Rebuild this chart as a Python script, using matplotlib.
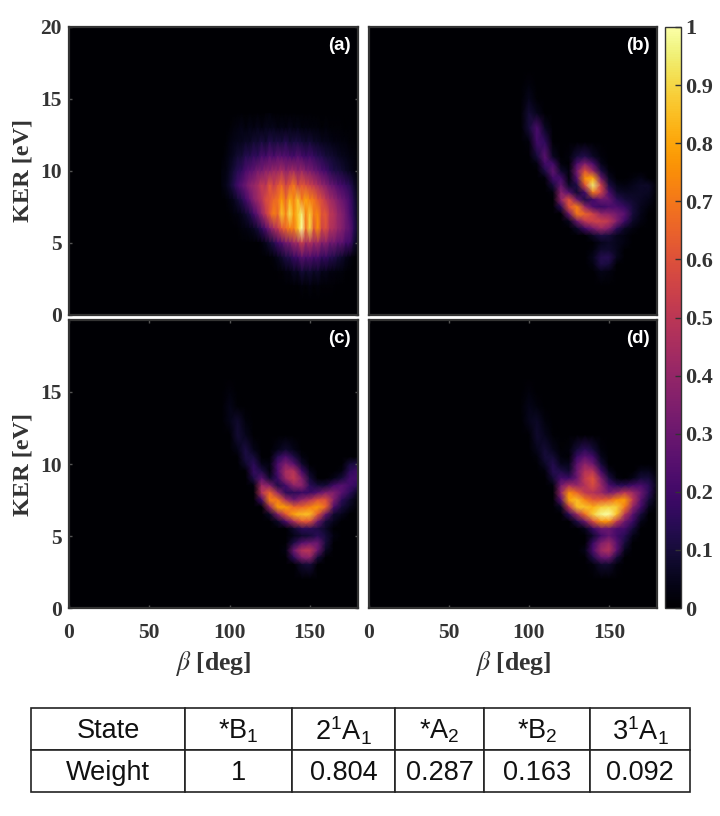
import numpy as np
from matplotlib import pyplot as plt
from matplotlib import cm
from matplotlib.colors import Normalize
from matplotlib.transforms import Affine2D


"""---------------------------------- Data ----------------------------------"""

beta_a = [95, 97.5, 100, 102.5, 105, 107.5, 110, 112.5, 115, 117.5, 120, 122.5,
          125, 127.5, 130, 132.5, 135, 137.5, 140, 142.5, 145, 147.5, 150,
          152.5, 155, 157.5, 160, 162.5, 165, 167.5, 170, 172.5, 175, 177.5,
          180]
ker_a = [14, 13, 12, 11, 10, 9, 8, 7, 6, 5, 4, 3, 2, 1]
panel_a = [
    [0, 0, 0, 0, 0, .01, 0, .01, 0, .01, 0, .01, .02, 0, .01, 0, .01, 0, .01, 0, .01, 0, .01, 0, 0, 0, 0, 0, 0, 0, 0, 0, 0, 0, 0],
    [0, 0, .01, .02, .03, .04, .02, .04, .03, .05, .03, .05, .04, .05, .03, .04, .03, .05, .03, .04, .02, .03, .02, .02, .02, .01, .02, .01, .01, .01, .01, 0, .01, 0, 0],
    [0, .01, .03, .04, .05, .05, .07, .06, .09, .08, .11, .08, .13, .1, .12, .1, .14, .09, .11, .11, .1, .08, .1, .07, .07, .05, .05, .04, .03, .03, .02, .02, .01, .01, 0],
    [0, .02, .04, .06, .09, .09, .14, .13, .17, .15, .22, .19, .25, .21, .26, .24, .24, .22, .2, .25, .21, .18, .2, .17, .14, .13, .1, .09, .08, .06, .05, .04, .03, .02, .01],
    [.02, .03, .06, .1, .14, .16, .22, .25, .27, .33, .32, .38, .37, .42, .4, .46, .38, .42, .44, .37, .42, .35, .34, .3, .27, .22, .2, .15, .12, .11, .09, .07, .05, .03, .01],
    [.02, .04, .08, .13, .2, .25, .3, .37, .4, .44, .52, .48, .62, .52, .6, .66, .55, .62, .7, .56, .62, .58, .54, .5, .45, .4, .36, .3, .27, .22, .2, .17, .14, .08, .03],
    [0, .01, .03, .05, .09, .13, .2, .27, .36, .42, .48, .58, .6, .66, .68, .78, .66, .82, .72, .86, .7, .8, .72, .7, .62, .58, .5, .44, .4, .34, .3, .26, .2, .12, .04],
    [0, 0, .01, .02, .03, .05, .08, .12, .2, .28, .4, .5, .62, .72, .66, .86, .72, .92, .76, .86, .96, .72, .88, .7, .74, .6, .62, .5, .48, .4, .36, .3, .22, .13, .05],
    [0, 0, 0, 0, .01, .02, .03, .04, .06, .1, .16, .24, .34, .44, .5, .62, .66, .72, .7, .84, 1, .68, .9, .62, .76, .55, .6, .48, .46, .4, .36, .3, .26, .15, .06],
    [0, 0, 0, 0, 0, 0, 0, 0, 0, 0, .02, .05, .09, .13, .2, .24, .32, .33, .42, .42, .54, .42, .48, .4, .44, .34, .38, .3, .32, .26, .27, .2, .2, .09, .04],
    [0, 0, 0, 0, 0, 0, 0, 0, 0, 0, 0, 0, .01, .02, .05, .08, .12, .13, .18, .19, .26, .22, .24, .2, .22, .16, .18, .14, .13, .1, .08, .05, .03, .01, 0],
    [0, 0, 0, 0, 0, 0, 0, 0, 0, 0, 0, 0, 0, 0, .01, .01, .03, .03, .06, .05, .1, .07, .09, .06, .08, .04, .05, .03, .03, .02, .02, .01, 0, 0, 0],
    [0, 0, 0, 0, 0, 0, 0, 0, 0, 0, 0, 0, 0, 0, 0, 0, 0, 0, .01, 0, .02, .01, .03, .01, .02, .01, .01, .01, .01, 0, 0, 0, 0, 0, 0],
    [0, 0, 0, 0, 0, 0, 0, 0, 0, 0, 0, 0, 0, 0, 0, 0, 0, 0, 0, 0, 0, 0, 0, 0, 0, 0, 0, 0, 0, 0, 0, 0, 0, 0, 0],
]

beta_grid = [95, 100, 105, 110, 115, 120, 125, 130, 135, 140, 145, 150, 155, 160,
             165, 170, 175, 180]
ker_grid = [17, 16, 15, 14, 13, 12, 11, 10.5, 10, 9.5, 9, 8.5, 8, 7.5, 7, 6.5, 6,
            5.5, 5, 4.5, 4, 3.5, 3, 2]
panel_b = [
    [0, 0, 0, 0, 0, 0, 0, 0, 0, 0, 0, 0, 0, 0, 0, 0, 0, 0],
    [0, .02, 0, 0, 0, 0, 0, 0, 0, 0, 0, 0, 0, 0, 0, 0, 0, 0],
    [0, .05, .01, 0, 0, 0, 0, 0, 0, 0, 0, 0, 0, 0, 0, 0, 0, 0],
    [.01, .09, .05, 0, 0, 0, 0, 0, 0, 0, 0, 0, 0, 0, 0, 0, 0, 0],
    [0, .1, .22, .06, 0, 0, 0, 0, 0, 0, 0, 0, 0, 0, 0, 0, 0, 0],
    [0, .02, .2, .16, .01, 0, 0, 0, 0, 0, 0, 0, 0, 0, 0, 0, 0, 0],
    [0, 0, .1, .26, .06, 0, .02, .1, .13, .07, .02, 0, 0, 0, 0, 0, 0, 0],
    [0, 0, .03, .2, .2, .02, 0, .22, .35, .22, .05, 0, 0, 0, 0, 0, 0, 0],
    [0, 0, 0, .12, .27, .08, .03, .32, .6, .4, .12, .02, 0, 0, 0, 0, 0, 0],
    [0, 0, 0, .02, .2, .2, .02, .25, .75, .8, .3, .06, 0, 0, .02, .04, 0, 0],
    [0, 0, 0, 0, .1, .28, .07, .12, .6, .95, .55, .12, .04, .03, .05, .07, .07, 0],
    [0, 0, 0, 0, .02, .36, .24, .08, .2, .7, .55, .22, .08, .06, .06, .07, .06, 0],
    [0, 0, 0, 0, 0, .38, .6, .3, .12, .2, .3, .28, .15, .1, .08, .06, .04, 0],
    [0, 0, 0, 0, 0, .15, .6, .72, .4, .22, .18, .22, .22, .17, .1, .05, .02, 0],
    [0, 0, 0, 0, 0, 0, .3, .7, .65, .55, .4, .38, .32, .25, .1, .04, 0, 0],
    [0, 0, 0, 0, 0, 0, .05, .3, .5, .55, .55, .5, .35, .18, .07, .03, 0, 0],
    [0, 0, 0, 0, 0, 0, 0, .07, .2, .32, .42, .35, .15, .06, .03, 0, 0, 0],
    [0, 0, 0, 0, 0, 0, 0, 0, 0, .07, .12, .1, .05, .03, 0, 0, 0, 0],
    [0, 0, 0, 0, 0, 0, 0, 0, 0, 0, .05, .07, .05, .03, 0, 0, 0, 0],
    [0, 0, 0, 0, 0, 0, 0, 0, 0, .02, .08, .08, .05, 0, 0, 0, 0, 0],
    [0, 0, 0, 0, 0, 0, 0, 0, 0, .05, .13, .14, .05, 0, 0, 0, 0, 0],
    [0, 0, 0, 0, 0, 0, 0, 0, 0, .03, .12, .1, 0, 0, 0, 0, 0, 0],
    [0, 0, 0, 0, 0, 0, 0, 0, 0, 0, .04, .03, 0, 0, 0, 0, 0, 0],
    [0, 0, 0, 0, 0, 0, 0, 0, 0, 0, 0, 0, 0, 0, 0, 0, 0, 0],
]
panel_c = [
    [0, 0, 0, 0, 0, 0, 0, 0, 0, 0, 0, 0, 0, 0, 0, 0, 0, 0],
    [0, 0, 0, 0, 0, 0, 0, 0, 0, 0, 0, 0, 0, 0, 0, 0, 0, 0],
    [0, .02, 0, 0, 0, 0, 0, 0, 0, 0, 0, 0, 0, 0, 0, 0, 0, 0],
    [0, .04, .01, 0, 0, 0, 0, 0, 0, 0, 0, 0, 0, 0, 0, 0, 0, 0],
    [0, .04, .08, .02, 0, 0, 0, 0, 0, 0, 0, 0, 0, 0, 0, 0, 0, 0],
    [0, 0, .09, .05, 0, 0, 0, 0, 0, 0, 0, 0, 0, 0, 0, 0, 0, 0],
    [0, 0, .04, .11, .04, 0, 0, .04, .08, .04, 0, 0, 0, 0, 0, 0, 0, 0],
    [0, 0, .01, .11, .1, 0, 0, .14, .22, .12, .03, 0, 0, 0, 0, 0, 0, 0],
    [0, 0, 0, .08, .15, .04, .03, .22, .35, .25, .08, 0, 0, 0, 0, 0, .1, .12],
    [0, 0, 0, .01, .17, .12, .02, .22, .45, .48, .2, .05, 0, 0, 0, .03, .15, .2],
    [0, 0, 0, 0, .12, .25, .08, .18, .42, .52, .35, .1, 0, 0, .04, .1, .2, .2],
    [0, 0, 0, 0, .02, .42, .35, .12, .2, .38, .38, .15, .1, .1, .2, .25, .2, .15],
    [0, 0, 0, 0, 0, .48, .65, .4, .15, .15, .18, .18, .25, .35, .35, .25, .15, .05],
    [0, 0, 0, 0, 0, .2, .72, .7, .45, .3, .4, .48, .6, .6, .35, .15, .08, 0],
    [0, 0, 0, 0, 0, 0, .4, .78, .78, .65, .66, .72, .78, .65, .22, .1, .05, 0],
    [0, 0, 0, 0, 0, 0, .07, .35, .62, .8, .85, .85, .62, .28, .08, .05, 0, 0],
    [0, 0, 0, 0, 0, 0, 0, .07, .22, .45, .62, .6, .3, .1, .05, 0, 0, 0],
    [0, 0, 0, 0, 0, 0, 0, 0, 0, .08, .15, .15, .12, .07, 0, 0, 0, 0],
    [0, 0, 0, 0, 0, 0, 0, 0, 0, .04, .08, .1, .15, .1, .03, 0, 0, 0],
    [0, 0, 0, 0, 0, 0, 0, 0, 0, .12, .25, .3, .3, .1, 0, 0, 0, 0],
    [0, 0, 0, 0, 0, 0, 0, 0, .03, .3, .48, .5, .3, .06, 0, 0, 0, 0],
    [0, 0, 0, 0, 0, 0, 0, 0, 0, .15, .35, .38, .1, 0, 0, 0, 0, 0],
    [0, 0, 0, 0, 0, 0, 0, 0, 0, 0, .08, .1, 0, 0, 0, 0, 0, 0],
    [0, 0, 0, 0, 0, 0, 0, 0, 0, 0, 0, 0, 0, 0, 0, 0, 0, 0],
]
panel_d = [
    [0, 0, 0, 0, 0, 0, 0, 0, 0, 0, 0, 0, 0, 0, 0, 0, 0, 0],
    [0, 0, 0, 0, 0, 0, 0, 0, 0, 0, 0, 0, 0, 0, 0, 0, 0, 0],
    [0, .02, 0, 0, 0, 0, 0, 0, 0, 0, 0, 0, 0, 0, 0, 0, 0, 0],
    [.01, .04, .02, 0, 0, 0, 0, 0, 0, 0, 0, 0, 0, 0, 0, 0, 0, 0],
    [0, .05, .07, .02, 0, 0, 0, 0, 0, 0, 0, 0, 0, 0, 0, 0, 0, 0],
    [0, .01, .08, .05, .01, 0, 0, 0, 0, 0, 0, 0, 0, 0, 0, 0, 0, 0],
    [0, 0, .05, .09, .05, .01, .02, .1, .15, .1, .02, 0, 0, 0, 0, 0, 0, 0],
    [0, 0, .02, .1, .09, .02, .01, .18, .26, .2, .05, 0, 0, 0, 0, 0, 0, 0],
    [0, 0, .01, .07, .13, .05, .05, .26, .38, .3, .1, 0, 0, 0, 0, 0, 0, 0],
    [0, 0, 0, .02, .14, .12, .08, .3, .48, .48, .2, .05, 0, 0, 0, .05, .05, 0],
    [0, 0, 0, 0, .09, .2, .18, .3, .52, .6, .35, .12, .02, 0, .04, .1, .1, .02],
    [0, 0, 0, 0, .02, .32, .45, .4, .48, .58, .42, .22, .15, .15, .2, .22, .15, .03],
    [0, 0, 0, 0, 0, .4, .75, .65, .5, .48, .42, .32, .4, .5, .42, .3, .15, 0],
    [0, 0, 0, 0, 0, .25, .8, .85, .72, .62, .62, .65, .75, .78, .5, .25, .1, 0],
    [0, 0, 0, 0, 0, .06, .5, .85, .86, .82, .88, .9, .88, .7, .38, .2, .05, 0],
    [0, 0, 0, 0, 0, 0, .15, .42, .68, .88, .98, 1, .85, .48, .25, .1, 0, 0],
    [0, 0, 0, 0, 0, 0, 0, .12, .3, .58, .75, .75, .5, .3, .18, .04, 0, 0],
    [0, 0, 0, 0, 0, 0, 0, 0, .05, .18, .3, .3, .22, .2, .1, 0, 0, 0],
    [0, 0, 0, 0, 0, 0, 0, 0, 0, .08, .2, .28, .2, .14, .04, 0, 0, 0],
    [0, 0, 0, 0, 0, 0, 0, 0, 0, .18, .35, .42, .25, .1, 0, 0, 0, 0],
    [0, 0, 0, 0, 0, 0, 0, 0, .04, .22, .42, .48, .25, .05, 0, 0, 0, 0],
    [0, 0, 0, 0, 0, 0, 0, 0, 0, .12, .28, .3, .1, 0, 0, 0, 0, 0],
    [0, 0, 0, 0, 0, 0, 0, 0, 0, .02, .08, .08, .02, 0, 0, 0, 0, 0],
    [0, 0, 0, 0, 0, 0, 0, 0, 0, 0, 0, 0, 0, 0, 0, 0, 0, 0],
]

beta_ticks = [0, 50, 100, 150]
ker_ticks = [0, 5, 10, 15, 20]
cbar_ticks = [0, .1, .2, .3, .4, .5, .6, .7, .8, .9, 1]
cbar_labels = ['0', '0.1', '0.2', '0.3', '0.4', '0.5', '0.6', '0.7', '0.8',
               '0.9', '1']

states = ['State', '*B$_1$', '2$^1$A$_1$', '*A$_2$', '*B$_2$', '3$^1$A$_1$']
weights = ['Weight', '1', '0.804', '0.287', '0.163', '0.092']


"""------------------------------- Plotting -------------------------------"""

plt.rcParams['mathtext.default'] = 'regular'
SERIF = 'Liberation Serif'
SANS = 'Liberation Sans'
DARK = '#333333'
W, H = 720, 816

fig = plt.figure(figsize=(W / 100, H / 100), dpi=100, facecolor='white')


def px_axes(left, top, right, bottom):
    return fig.add_axes([left / W, 1 - bottom / H, (right - left) / W,
                         (bottom - top) / H])


def draw_panel(box, values, beta, ker, label, show_x, show_y, y_ticks,
               x_marks, y_marks):
    ax = px_axes(*box)
    ax.set_facecolor(cm.inferno(0.0))
    ax.pcolormesh(beta, ker, np.array(values), cmap='inferno', vmin=0, vmax=1,
                  shading='gouraud')
    ax.set_xlim(0, 180)
    ax.set_ylim(0, 20)
    ax.set_xticks(beta_ticks)
    ax.set_yticks(y_ticks)
    ax.tick_params(axis='x', direction='in', length=2.5, width=1,
                   color='#555555', top=x_marks, bottom=x_marks, pad=11,
                   labelbottom=show_x)
    ax.tick_params(axis='y', direction='in', length=2.5, width=1,
                   color='#555555', left=y_marks, right=y_marks, pad=5,
                   labelleft=show_y)
    for lab in ax.get_xticklabels() + ax.get_yticklabels():
        lab.set(family=SERIF, weight='bold', size=15.5, color=DARK)
    for spine in ax.spines.values():
        spine.set_color(DARK)
        spine.set_linewidth(1.6)
    ax.text(0.975, 0.935, label, transform=ax.transAxes, ha='right',
            va='center', color='white', family=SANS, weight='bold', size=13.5)
    if show_y:
        ax.set_ylabel('KER [eV]', family=SERIF, weight='bold', size=17.5,
                      color=DARK, labelpad=5)
    if show_x:
        ax.set_xlabel(r'$\mathit{\beta}$ [deg]', family=SERIF, weight='bold',
                      size=18.5, color=DARK, labelpad=4, math_fontfamily='stix')
    return ax


draw_panel((69, 27, 358, 315), panel_a, beta_a, ker_a, '(a)', False, True,
           ker_ticks, False, True)
draw_panel((369, 27, 657, 315), panel_b, beta_grid, ker_grid, '(b)', False,
           False, ker_ticks, False, False)
draw_panel((69, 320, 358, 608), panel_c, beta_grid, ker_grid, '(c)', True, True,
           ker_ticks[:-1], True, True)
draw_panel((369, 320, 657, 608), panel_d, beta_grid, ker_grid, '(d)', True,
           False, ker_ticks[:-1], True, False)

cax = px_axes(665, 27, 681, 608)
cbar = fig.colorbar(cm.ScalarMappable(Normalize(0, 1), 'inferno'), cax=cax)
cbar.set_ticks(cbar_ticks, labels=cbar_labels)
cax.tick_params(direction='in', length=4, width=1, color=DARK, pad=3)
for lab in cax.get_yticklabels():
    lab.set(family=SERIF, weight='bold', size=16, color=DARK)
cbar.outline.set_edgecolor(DARK)
cbar.outline.set_linewidth(1)

tab_ax = px_axes(31, 708, 690, 792)
tab_ax.axis('off')
col_px = np.array([154, 107, 103, 89, 106, 100])
table = tab_ax.table(cellText=[states, weights], cellLoc='center',
                     colWidths=list(col_px / col_px.sum()), bbox=[0, 0, 1, 1])
table.auto_set_font_size(False)
for cell in table.get_celld().values():
    cell.set_linewidth(1.2)
    cell.set_edgecolor('#222222')
    cell.get_text().set(family=SANS, size=19.5, color='#111111')
    # table text sits a bit high, nudge it down
    cell.get_text().set_transform(Affine2D().translate(0, -2))

fig.savefig('out.png', dpi=100)
